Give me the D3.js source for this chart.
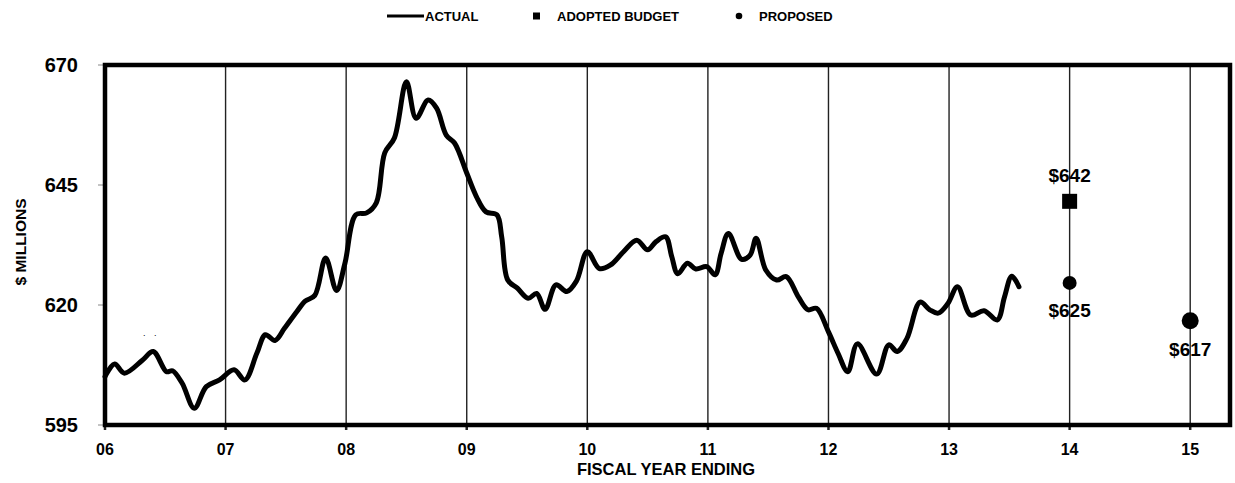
<!DOCTYPE html>
<html>
<head>
<meta charset="utf-8">
<script src="https://cdnjs.cloudflare.com/ajax/libs/d3/7.8.5/d3.min.js"></script>
<style>
  body { margin: 0; background: #fff; }
  text { font-family: Arial, "Liberation Sans", sans-serif; font-weight: bold; fill: #000; }
</style>
</head>
<body>
<div id="vis"></div>
<script>
// fiscal year position (06 = start of FY06) and actual revenue, $ millions
var actualYears = [6.00, 6.08, 6.16, 6.31, 6.40, 6.51, 6.56, 6.64, 6.74, 6.84, 6.95,
  7.07, 7.16, 7.26, 7.33, 7.41, 7.49, 7.59, 7.66, 7.74, 7.83, 7.92, 7.99,
  8.08, 8.17, 8.25, 8.32, 8.40, 8.50, 8.58, 8.68, 8.75, 8.83, 8.90,
  9.00, 9.08, 9.16, 9.25, 9.29, 9.34, 9.42, 9.51, 9.58, 9.65, 9.74, 9.83, 9.91,
  10.00, 10.10, 10.19, 10.30, 10.41, 10.50, 10.57, 10.65, 10.70, 10.75, 10.83, 10.90, 10.99,
  11.06, 11.11, 11.17, 11.28, 11.35, 11.40, 11.48, 11.57, 11.65, 11.75, 11.83, 11.90,
  12.00, 12.08, 12.16, 12.24, 12.40, 12.50, 12.57, 12.65, 12.76, 12.84, 12.91, 12.99,
  13.07, 13.18, 13.29, 13.40, 13.46, 13.52, 13.58];
var actualValues = [605.1, 607.7, 605.8, 608.5, 610.3, 606.1, 606.3, 603.7, 598.5, 603.0, 604.4,
  606.5, 604.4, 610.0, 613.8, 612.6, 615.2, 618.6, 620.8, 622.0, 629.8, 623.0, 628.7,
  638.8, 639.2, 641.3, 651.7, 654.8, 666.5, 658.9, 662.7, 661.0, 655.4, 653.7,
  647.5, 642.6, 639.4, 638.8, 634.2, 625.2, 623.5, 621.4, 622.4, 619.1, 624.2, 622.8, 625.0,
  631.1, 627.6, 628.3, 631.1, 633.5, 631.5, 633.2, 634.2, 630.1, 626.5, 628.7, 627.5, 628.0,
  626.3, 630.8, 634.9, 629.5, 630.4, 633.9, 627.3, 625.2, 625.9, 621.7, 619.0, 619.3,
  614.4, 609.9, 606.1, 611.9, 605.6, 611.7, 610.3, 613.0, 620.6, 619.0, 618.3, 620.3,
  623.8, 617.9, 618.8, 616.9, 621.7, 626.0, 623.8];

var adoptedYears = [14];
var adoptedValues = [641.6];
var proposedYears = [14, 15];
var proposedValues = [624.6, 616.7];

var yTicks = [595, 620, 645, 670];
var xTicks = [6, 7, 8, 9, 10, 11, 12, 13, 14, 15];
var xTickLabels = ['06', '07', '08', '09', '10', '11', '12', '13', '14', '15'];

var width = 1235;
var height = 483;
var plot = { left: 105, right: 1230, top: 65, bottom: 425 };

var svg = d3.select('#vis').append('svg')
  .attr('width', width)
  .attr('height', height);

var x = d3.scaleLinear().domain([6, 15.33]).range([plot.left, plot.right]);
var y = d3.scaleLinear().domain([595, 670]).range([plot.bottom, plot.top]);

// vertical year grid lines
svg.append('g').selectAll('line')
  .data(xTicks.slice(1))
  .enter().append('line')
  .attr('x1', function (d) { return x(d); })
  .attr('x2', function (d) { return x(d); })
  .attr('y1', plot.top)
  .attr('y2', plot.bottom)
  .attr('stroke', '#222')
  .attr('stroke-width', 1.4);

// small outside ticks
svg.append('g').selectAll('line')
  .data(yTicks)
  .enter().append('line')
  .attr('x1', plot.left - 7)
  .attr('x2', plot.left)
  .attr('y1', function (d) { return y(d); })
  .attr('y2', function (d) { return y(d); })
  .attr('stroke', '#888')
  .attr('stroke-width', 1);

svg.append('g').selectAll('line')
  .data(xTicks)
  .enter().append('line')
  .attr('x1', function (d) { return x(d); })
  .attr('x2', function (d) { return x(d); })
  .attr('y1', plot.bottom)
  .attr('y2', plot.bottom + 5)
  .attr('stroke', '#222')
  .attr('stroke-width', 2.5);

// tick labels
svg.append('g').selectAll('text')
  .data(yTicks)
  .enter().append('text')
  .attr('x', 78)
  .attr('y', function (d) { return y(d); })
  .attr('dy', '0.36em')
  .attr('text-anchor', 'end')
  .style('font-size', '20px')
  .text(function (d) { return d; });

svg.append('g').selectAll('text')
  .data(xTicks)
  .enter().append('text')
  .attr('x', function (d) { return x(d); })
  .attr('y', 455)
  .attr('text-anchor', 'middle')
  .style('font-size', '16px')
  .text(function (d, i) { return xTickLabels[i]; });

// axis titles
svg.append('text')
  .attr('x', 666)
  .attr('y', 475)
  .attr('text-anchor', 'middle')
  .style('font-size', '16.5px')
  .text('FISCAL YEAR ENDING');

svg.append('text')
  .attr('transform', 'translate(26,242) rotate(-90)')
  .attr('text-anchor', 'middle')
  .style('font-size', '15.5px')
  .text('$ MILLIONS');

// actual line
var line = d3.line()
  .x(function (d) { return x(d[0]); })
  .y(function (d) { return y(d[1]); })
  .curve(d3.curveCatmullRom.alpha(0.5));

svg.append('path')
  .datum(d3.zip(actualYears, actualValues))
  .attr('d', line)
  .attr('fill', 'none')
  .attr('stroke', '#000')
  .attr('stroke-width', 5)
  .attr('stroke-linejoin', 'round')
  .attr('stroke-linecap', 'round');

// stray dots left in the original
svg.append('text')
  .attr('x', 143)
  .attr('y', 336)
  .style('font-size', '9px')
  .style('font-weight', 'normal')
  .style('letter-spacing', '3px')
  .text('. .');

// adopted budget marker
var adopted = d3.zip(adoptedYears, adoptedValues);
svg.append('g').selectAll('rect')
  .data(adopted)
  .enter().append('rect')
  .attr('x', function (d) { return x(d[0]) - 7.5; })
  .attr('y', function (d) { return y(d[1]) - 7.5; })
  .attr('width', 15)
  .attr('height', 15)
  .attr('fill', '#000');

svg.append('g').selectAll('text')
  .data(adopted)
  .enter().append('text')
  .attr('x', function (d) { return x(d[0]); })
  .attr('y', function (d) { return y(d[1]) - 19; })
  .attr('text-anchor', 'middle')
  .style('font-size', '19px')
  .text(function (d) { return '$' + Math.round(d[1]); });

// proposed markers
var proposed = d3.zip(proposedYears, proposedValues);
svg.append('g').selectAll('circle')
  .data(proposed)
  .enter().append('circle')
  .attr('cx', function (d) { return x(d[0]); })
  .attr('cy', function (d) { return y(d[1]); })
  .attr('r', function (d, i) { return i === 0 ? 7 : 8.5; })
  .attr('fill', '#000');

svg.append('g').selectAll('text')
  .data(proposed)
  .enter().append('text')
  .attr('x', function (d) { return x(d[0]); })
  .attr('y', function (d, i) { return y(d[1]) + (i === 0 ? 34 : 35); })
  .attr('text-anchor', 'middle')
  .style('font-size', '19px')
  .text(function (d) { return '$' + Math.round(d[1]); });

// frame
svg.append('rect')
  .attr('x', plot.left)
  .attr('y', plot.top)
  .attr('width', plot.right - plot.left)
  .attr('height', plot.bottom - plot.top)
  .attr('fill', 'none')
  .attr('stroke', '#000')
  .attr('stroke-width', 4.5);

// legend
var legend = svg.append('g').style('font-size', '13px');
legend.append('line')
  .attr('x1', 387).attr('x2', 424)
  .attr('y1', 16).attr('y2', 16)
  .attr('stroke', '#000')
  .attr('stroke-width', 3);
legend.append('text').attr('x', 425).attr('y', 21).text('ACTUAL');
legend.append('rect')
  .attr('x', 533).attr('y', 12.5)
  .attr('width', 7).attr('height', 7)
  .attr('fill', '#000');
legend.append('text').attr('x', 557).attr('y', 21).text('ADOPTED BUDGET');
legend.append('circle')
  .attr('cx', 739).attr('cy', 16)
  .attr('r', 3.3)
  .attr('fill', '#000');
legend.append('text').attr('x', 759).attr('y', 21).text('PROPOSED');
</script>
</body>
</html>
